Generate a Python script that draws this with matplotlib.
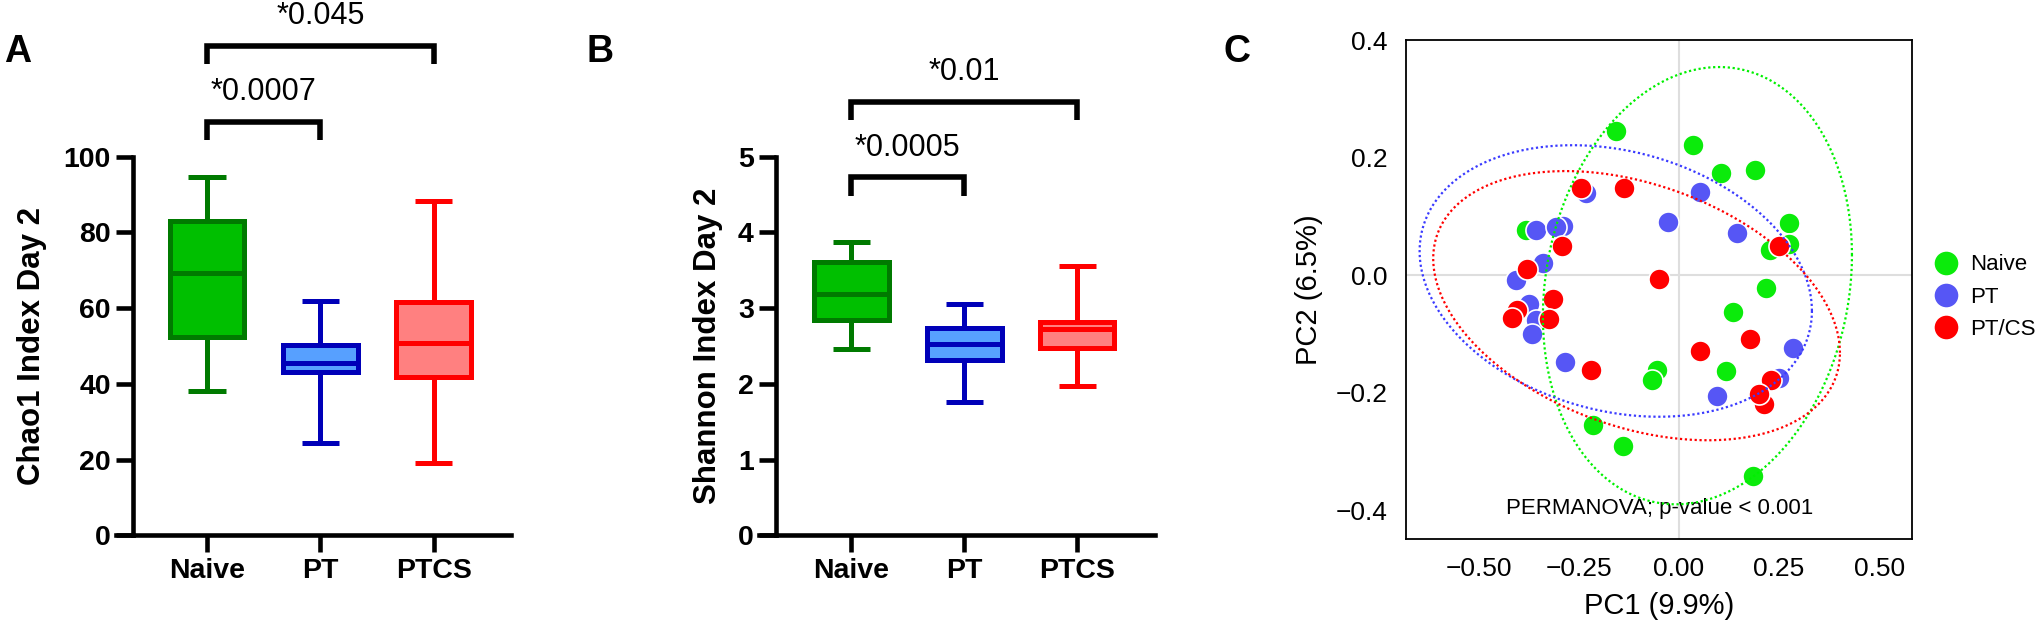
import numpy as np
import matplotlib
matplotlib.use("Agg")
import matplotlib.pyplot as plt
from matplotlib.lines import Line2D

plt.rcParams["font.family"] = ["Liberation Sans", "DejaVu Sans"]

# ---- panel A / B : box summaries ----
GROUPS = ["Naive", "PT", "PTCS"]
BOX_FILL = ["#00BF00", "#57A0FF", "#FF8080"]
BOX_EDGE = ["#007A00", "#0000B8", "#FF0000"]

chao1_min = [38.0, 24.3, 19.1]
chao1_q1 = [52.4, 43.2, 41.9]
chao1_med = [69.2, 45.6, 50.7]
chao1_q3 = [83.1, 50.3, 61.7]
chao1_max = [94.5, 61.8, 88.4]
chao1_pairs = [(0, 1, "*0.0007"), (0, 2, "*0.045")]

shannon_min = [2.46, 1.76, 1.97]
shannon_q1 = [2.84, 2.32, 2.47]
shannon_med = [3.18, 2.53, 2.72]
shannon_q3 = [3.61, 2.74, 2.81]
shannon_max = [3.87, 3.06, 3.56]
shannon_pairs = [(0, 1, "*0.0005"), (0, 2, "*0.01")]

# ---- panel C : PCoA scores ----
PC_GROUPS = ["Naive", "PT", "PT/CS"]
PC_COLORS = ["#0BEB0B", "#5656F5", "#FF0000"]
ELL_COLORS = ["#00F000", "#3A3AFF", "#FF0000"]

naive_pc1 = [-0.157, 0.035, 0.106, 0.189, 0.274, 0.274, 0.228, 0.218,
             0.136, 0.118, 0.184, -0.382, -0.054, -0.068, -0.215, -0.140]
naive_pc2 = [0.245, 0.221, 0.173, 0.178, 0.088, 0.053, 0.042, -0.022,
             -0.063, -0.163, -0.341, 0.076, -0.162, -0.178, -0.255, -0.290]
pt_pc1 = [-0.232, 0.053, -0.028, -0.357, -0.289, -0.308, -0.341, -0.407,
          -0.374, -0.357, -0.366, -0.286, 0.146, 0.285, 0.250, 0.096]
pt_pc2 = [0.139, 0.142, 0.090, 0.076, 0.084, 0.082, 0.021, -0.009,
          -0.049, -0.076, -0.101, -0.148, 0.071, -0.124, -0.175, -0.205]
ptcs_pc1 = [-0.245, -0.137, -0.293, -0.380, -0.049, -0.316, -0.405, -0.418,
            -0.3245, -0.2195, 0.053, 0.178, 0.250, 0.230, 0.213, 0.199]
ptcs_pc2 = [0.148, 0.148, 0.049, 0.011, -0.006, -0.040, -0.059, -0.073,
            -0.075, -0.162, -0.129, -0.109, 0.049, -0.178, -0.220, -0.202]

# ellipses: centre, half extent along PC1 / PC2, correlation
ell_cx = [0.046, -0.158, -0.106]
ell_cy = [-0.018, -0.010, -0.052]
ell_sx = [0.386, 0.490, 0.508]
ell_sy = [0.372, 0.231, 0.229]
ell_r = [0.14, -0.22, -0.35]

PERMANOVA_TEXT = "PERMANOVA; p-value < 0.001"

W, H = 2040, 625
fig = plt.figure(figsize=(W / 100, H / 100), dpi=100)


def px_rect(left, right, top, bottom):
    return [left / W, 1 - bottom / H, (right - left) / W, (bottom - top) / H]


def box_panel(ax, mins, q1, med, q3, maxs, ylim, yticks, ylabel, pairs,
              bracket_y, xlim, ylabel_x):
    stats = []
    for i, g in enumerate(GROUPS):
        stats.append(dict(label=g, whislo=mins[i], q1=q1[i], med=med[i],
                          q3=q3[i], whishi=maxs[i]))
    bp = ax.bxp(stats, positions=range(len(GROUPS)), widths=0.66,
                capwidths=0.33, patch_artist=True, showfliers=False)
    for i in range(len(GROUPS)):
        bp["boxes"][i].set(facecolor=BOX_FILL[i], edgecolor=BOX_EDGE[i],
                           linewidth=3.6, joinstyle="miter")
        bp["medians"][i].set(color=BOX_EDGE[i], linewidth=3.6,
                             solid_capstyle="butt")
        for ln in bp["whiskers"][2 * i:2 * i + 2] + bp["caps"][2 * i:2 * i + 2]:
            ln.set(color=BOX_EDGE[i], linewidth=3.6, solid_capstyle="butt")

    ax.set_xlim(*xlim)
    ax.set_ylim(*ylim)
    ax.set_yticks(yticks)
    ax.set_xticks(range(len(GROUPS)))
    ax.set_xticklabels(GROUPS)
    for s in ["top", "right"]:
        ax.spines[s].set_visible(False)
    for s in ["left", "bottom"]:
        ax.spines[s].set_linewidth(3.3)
    ax.tick_params(direction="out", length=12, width=3.3, labelsize=20.5, pad=4)
    for lbl in ax.get_xticklabels() + ax.get_yticklabels():
        lbl.set_fontweight("bold")
    # x axis runs out to the start of the y ticks
    ext = 12 * 100 / 72 / (ax.get_position().width * W)
    ax.add_line(Line2D([-ext, 0], [0, 0], transform=ax.transAxes, color="k",
                       lw=3.3, clip_on=False))
    ax.set_ylabel(ylabel, fontsize=22.5, fontweight="bold")
    ax.yaxis.set_label_coords(ylabel_x, 0.5)
    ax.yaxis.label.set_verticalalignment("center")

    trans = ax.get_xaxis_transform()
    leg = 0.048
    for (i, j, txt), yb in zip(pairs, bracket_y):
        ax.plot([i, i, j, j], [yb - leg, yb, yb, yb - leg], color="k", lw=4,
                transform=trans, clip_on=False, solid_joinstyle="miter",
                solid_capstyle="butt")
        ax.text((i + j) / 2, yb + 0.079, txt, transform=trans, ha="center",
                va="center", fontsize=22)


axA = fig.add_axes(px_rect(133, 511, 156.6, 535.3))
box_panel(axA, chao1_min, chao1_q1, chao1_med, chao1_q3, chao1_max,
          (0, 100), range(0, 101, 20), "Chao1 Index Day 2", chao1_pairs,
          [1.092, 1.292], (-0.653, 2.683), -0.266)

axB = fig.add_axes(px_rect(776, 1155, 156.6, 535.3))
box_panel(axB, shannon_min, shannon_q1, shannon_med, shannon_q3, shannon_max,
          (0, 5), range(0, 6), "Shannon Index Day 2", shannon_pairs,
          [0.945, 1.145], (-0.668, 2.689), -0.179)

# ---- panel C ----
axC = fig.add_axes(px_rect(1406, 1912, 40, 539))
axC.axhline(0, color="#DEDEDE", lw=1.5, zorder=0)
axC.axvline(0, color="#DEDEDE", lw=1.5, zorder=0)
series = [(naive_pc1, naive_pc2), (pt_pc1, pt_pc2), (ptcs_pc1, ptcs_pc2)]
for k, (xs, ys) in enumerate(series):
    axC.scatter(xs, ys, s=230, color=PC_COLORS[k], edgecolors="white",
                linewidths=1.2, label=PC_GROUPS[k], zorder=2 + k)
t = np.linspace(0, 2 * np.pi, 400)
for k in range(3):
    r = ell_r[k]
    ex = ell_cx[k] + ell_sx[k] * np.cos(t)
    ey = ell_cy[k] + ell_sy[k] * (r * np.cos(t) + np.sqrt(1 - r ** 2) * np.sin(t))
    axC.plot(ex, ey, color=ELL_COLORS[k], lw=1.6, linestyle=(0, (1, 1.2)),
             zorder=6)
axC.text(-0.049, -0.397, PERMANOVA_TEXT, ha="center", va="center", fontsize=16)
axC.set_xlim(-0.682, 0.582)
axC.set_ylim(-0.449, 0.4)
xt = [-0.5, -0.25, 0.0, 0.25, 0.5]
yt = [-0.4, -0.2, 0.0, 0.2, 0.4]
axC.set_xticks(xt)
axC.set_xticklabels([f"{v:.2f}".replace("-", "\u2212") for v in xt])
axC.set_yticks(yt)
axC.set_yticklabels([f"{v:.1f}".replace("-", "\u2212") for v in yt])
axC.tick_params(length=0, labelsize=19, pad=13)
for s in axC.spines.values():
    s.set_linewidth(1.3)
axC.set_xlabel("PC1 (9.9%)", fontsize=21)
axC.set_ylabel("PC2 (6.5%)", fontsize=21)
axC.yaxis.set_label_coords(-0.192, 0.5)
axC.yaxis.label.set_verticalalignment("center")
axC.xaxis.set_label_coords(0.5, -0.134)
axC.xaxis.label.set_verticalalignment("center")

handles = [Line2D([], [], marker="o", linestyle="", markersize=17,
                  markerfacecolor=c, markeredgecolor="none") for c in PC_COLORS]
fig.legend(handles, PC_GROUPS, loc="center left",
           bbox_to_anchor=(1935 / W, 1 - 297 / H), frameon=False, fontsize=16,
           handlelength=1.0, handletextpad=0.6, borderpad=0, borderaxespad=0,
           labelspacing=0.5)

# panel letters
for letter, x in [("A", 4), ("B", 587), ("C", 1224)]:
    fig.text(x / W, 1 - 52 / H, letter, fontsize=27, fontweight="bold",
             ha="left", va="center")

fig.savefig("out.png", dpi=100)
